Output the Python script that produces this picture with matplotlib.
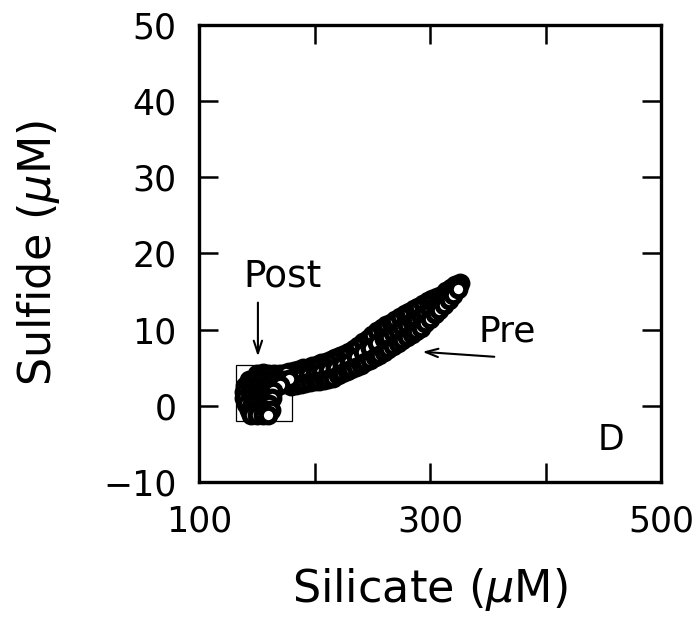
import matplotlib
matplotlib.use("Agg")
import matplotlib.pyplot as plt
from matplotlib.patches import Rectangle

# Post-event samples: tight cluster at low silicate
post_silicate = [150, 155, 160, 165, 170, 175,
                 143, 148, 153, 158, 163, 168, 173, 178,
                 140, 145, 150, 155, 160, 165, 170,
                 139, 144, 149, 154, 159, 164,
                 139, 144, 149, 154, 159, 163,
                 141, 146, 151, 156, 161,
                 143, 148, 153, 158, 162,
                 145, 150, 155, 160]
post_sulfide = [4.2, 4.3, 4.2, 4.1, 4.2, 4.3,
                3.4, 3.4, 3.4, 3.4, 3.4, 3.4, 3.4, 3.5,
                2.6, 2.6, 2.6, 2.6, 2.6, 2.6, 2.7,
                1.8, 1.8, 1.8, 1.8, 1.8, 1.9,
                1.0, 1.0, 1.0, 1.0, 1.0, 1.0,
                0.2, 0.2, 0.2, 0.2, 0.2,
                -0.6, -0.6, -0.6, -0.6, -0.6,
                -1.2, -1.2, -1.2, -1.2]

# Pre-event samples, upper edge of the trend
pre_upper_si = [178, 182, 186, 190, 194, 198, 202, 206, 210, 214,
                218, 222, 226, 230, 234, 238, 242, 246, 250, 254,
                258, 262, 266, 270, 274, 278, 282, 286, 290, 294,
                298, 302, 306, 310, 314, 318, 322, 326]
pre_upper_s = [4.4, 4.5, 4.7, 4.9, 5.0, 5.2, 5.4, 5.6, 5.8, 6.0,
               6.3, 6.5, 6.8, 7.0, 7.5, 7.9, 8.4, 8.8, 9.3, 9.8,
               10.2, 10.6, 10.9, 11.3, 11.6, 12.0, 12.3, 12.7, 13.0, 13.4,
               13.7, 14.0, 14.3, 14.6, 15.0, 15.4, 15.8, 16.1]

# Pre-event samples, middle of the trend
pre_mid_si = [182, 188, 194, 200, 206, 212, 218, 224, 230, 236,
              242, 248, 254, 260, 264, 268, 272, 276, 280, 284,
              288, 292, 296, 300, 304, 308, 312, 316, 320, 324]
pre_mid_s = [3.6, 3.8, 4.0, 4.2, 4.4, 4.7, 5.0, 5.4, 5.8, 6.4,
             7.0, 7.6, 8.2, 8.7, 9.0, 9.5, 9.8, 10.3, 10.6, 11.0,
             11.4, 11.7, 12.2, 12.6, 13.1, 13.5, 14.0, 14.5, 15.0, 15.6]

# Pre-event samples, lower edge of the trend
pre_lower_si = [180, 184, 188, 192, 196, 200, 204, 208, 212, 216,
                220, 224, 228, 232, 236, 240, 244, 248, 252, 256,
                260, 264, 268, 272, 276, 280, 284, 288, 292, 296,
                300, 304, 308, 312, 316, 320, 324]
pre_lower_s = [2.6, 2.7, 2.9, 3.0, 3.1, 3.2, 3.3, 3.4, 3.5, 3.7,
               4.0, 4.3, 4.5, 4.8, 5.1, 5.4, 5.7, 6.0, 6.4, 6.7,
               7.0, 7.4, 7.8, 8.2, 8.6, 9.0, 9.4, 9.8, 10.2, 10.8,
               11.4, 12.0, 12.6, 13.2, 13.9, 14.6, 15.3]

xticks = [100, 200, 300, 400, 500]
xticklabels = ["100", "", "300", "", "500"]
yticks = [-10, 0, 10, 20, 30, 40, 50]

plt.rcParams["font.family"] = "DejaVu Sans"

fig = plt.figure(figsize=(6.97, 6.21), dpi=100)
ax = fig.add_axes([0.2855, 0.224, 0.663, 0.736])

style = dict(linestyle="none", marker="o", markersize=10.5,
             markerfacecolor="white", markeredgecolor="black",
             markeredgewidth=3.8)
ax.plot(pre_upper_si, pre_upper_s, **style)
ax.plot(pre_mid_si, pre_mid_s, **style)
ax.plot(pre_lower_si, pre_lower_s, **style)
ax.plot(post_silicate, post_sulfide, **style)

# box around the post cluster
ax.add_patch(Rectangle((132, -2), 48.5, 7.4, fill=False, lw=0.9, ec="black"))

arrow = dict(arrowstyle="->,head_length=0.9,head_width=0.3", lw=1.5,
             color="black")
ax.annotate("", xy=(151, 6.1), xytext=(151, 13.9), arrowprops=arrow)
ax.annotate("", xy=(291, 7.1), xytext=(358, 6.4), arrowprops=arrow)
ax.text(172.7, 17.0, "Post", ha="center", va="center", fontsize=27)
ax.text(366.7, 9.8, "Pre", ha="center", va="center", fontsize=26)
ax.text(457, -4.5, "D", ha="center", va="center", fontsize=25)

ax.set_xlim(100, 500)
ax.set_ylim(-10, 50)
ax.set_xticks(xticks)
ax.set_xticklabels(xticklabels)
ax.set_yticks(yticks)
ax.tick_params(direction="in", length=14, width=1.8, labelsize=25,
               top=True, right=True, pad=16)
for s in ax.spines.values():
    s.set_linewidth(2.4)

ax.set_xlabel(r"Silicate ($\mu$M)", fontsize=32, labelpad=20)
ax.set_ylabel(r"Sulfide ($\mu$M)", fontsize=32, labelpad=30)

fig.savefig("out.png", dpi=100)
